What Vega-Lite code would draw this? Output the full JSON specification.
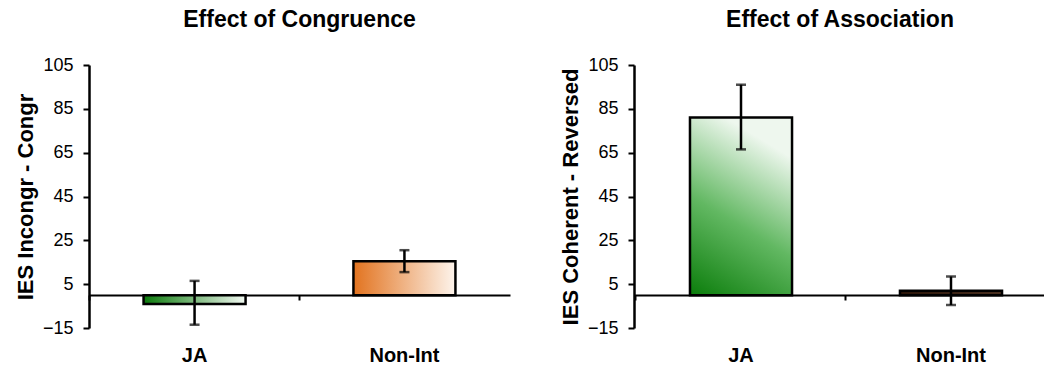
{
  "$schema": "https://vega.github.io/schema/vega-lite/v6.json",
  "background": "white",
  "padding": {"left": 14, "top": 9, "right": 0, "bottom": 0},
  "spacing": 49,
  "config": {
    "view": {"stroke": null},
    "font": "Liberation Sans",
    "axis": {"grid": false, "domainColor": "black", "tickColor": "black", "labelColor": "black", "titleColor": "black", "labelFont": "Liberation Sans", "titleFont": "Liberation Sans"},
    "title": {"fontSize": 23, "fontWeight": "bold", "color": "black", "font": "Liberation Sans", "offset": 24}
  },
  "hconcat": [
    {
      "width": 421,
      "height": 263,
      "title": {"text": "Effect of Congruence"},
      "data": {"values": [
        {"cat": "JA", "value": -4, "lo": -13.5, "hi": 6.5},
        {"cat": "Non-Int", "value": 15.5, "lo": 10.5, "hi": 20.5}
      ]},
      "encoding": {
        "x": {"field": "cat", "type": "nominal",
          "scale": {"domain": ["JA", "Non-Int"], "paddingInner": 0.514, "paddingOuter": 0.26, "align": 0.5},
          "axis": {"title": null, "orient": "bottom", "offset": -33, "domainWidth": 2, "tickWidth": 2, "tickSize": 5, "bandPosition": -0.53, "labelPadding": 45, "labelFontSize": 20, "labelFontWeight": "bold", "labelAngle": 0}}
      },
      "layer": [
        {
          "transform": [{"filter": "datum.cat === 'JA'"}],
          "mark": {"type": "bar", "stroke": "black", "strokeWidth": 2.5,
            "fill": {"gradient": "linear", "x1": 0, "y1": 0, "x2": 1, "y2": 0, "stops": [{"offset": 0, "color": "#0b7a0b"}, {"offset": 1, "color": "#f2f9f2"}]}},
          "encoding": {
            "y": {"field": "value", "type": "quantitative",
              "scale": {"domain": [-15, 105], "nice": false, "zero": false},
              "axis": {"title": "IES Incongr - Congr", "values": [-15, 5, 25, 45, 65, 85, 105], "domainWidth": 2.5, "tickWidth": 2, "tickSize": 6, "labelPadding": 10, "labelFontSize": 18, "titleFontSize": 22, "titleFontWeight": "bold", "titlePadding": 5}},
            "y2": {"datum": 0}
          }
        },
        {
          "transform": [{"filter": "datum.cat === 'Non-Int'"}],
          "mark": {"type": "bar", "stroke": "black", "strokeWidth": 2.5,
            "fill": {"gradient": "linear", "x1": 0, "y1": 0, "x2": 1, "y2": 0, "stops": [{"offset": 0, "color": "#e2731f"}, {"offset": 1, "color": "#fdf4ec"}]}},
          "encoding": {"y": {"field": "value", "type": "quantitative"}, "y2": {"datum": 0}}
        },
        {
          "mark": {"type": "rule", "stroke": "black", "strokeWidth": 2.5},
          "encoding": {"y": {"field": "lo", "type": "quantitative"}, "y2": {"field": "hi"}}
        },
        {
          "mark": {"type": "tick", "color": "black", "size": 10, "thickness": 2.5, "orient": "horizontal"},
          "encoding": {"y": {"field": "lo", "type": "quantitative"}}
        },
        {
          "mark": {"type": "tick", "color": "black", "size": 10, "thickness": 2.5, "orient": "horizontal"},
          "encoding": {"y": {"field": "hi", "type": "quantitative"}}
        }
      ]
    },
    {
      "width": 412,
      "height": 263,
      "title": {"text": "Effect of Association"},
      "data": {"values": [
        {"cat": "JA", "value": 81, "lo": 66.5, "hi": 96},
        {"cat": "Non-Int", "value": 2, "lo": -4.5, "hi": 8.5}
      ]},
      "encoding": {
        "x": {"field": "cat", "type": "nominal",
          "scale": {"domain": ["JA", "Non-Int"], "paddingInner": 0.514, "paddingOuter": 0.238, "align": 0.56},
          "axis": {"title": null, "orient": "bottom", "offset": -33, "domainWidth": 2, "tickWidth": 2, "tickSize": 5, "bandPosition": -0.53, "labelPadding": 45, "labelFontSize": 20, "labelFontWeight": "bold", "labelAngle": 0}}
      },
      "layer": [
        {
          "transform": [{"filter": "datum.cat === 'JA'"}],
          "mark": {"type": "bar", "stroke": "black", "strokeWidth": 2.5,
            "fill": {"gradient": "linear", "x1": 0, "y1": 1, "x2": 0.35, "y2": 0, "stops": [{"offset": 0, "color": "#0b7d0b"}, {"offset": 0.5, "color": "#62b862"}, {"offset": 1, "color": "#eef7ee"}]}},
          "encoding": {
            "y": {"field": "value", "type": "quantitative",
              "scale": {"domain": [-15, 105], "nice": false, "zero": false},
              "axis": {"title": "IES Coherent - Reversed", "values": [-15, 5, 25, 45, 65, 85, 105], "domainWidth": 2.5, "tickWidth": 2, "tickSize": 6, "labelPadding": 10, "labelFontSize": 18, "titleFontSize": 22, "titleFontWeight": "bold", "titlePadding": 5}},
            "y2": {"datum": 0}
          }
        },
        {
          "transform": [{"filter": "datum.cat === 'Non-Int'"}],
          "mark": {"type": "bar", "stroke": "black", "strokeWidth": 2.5,
            "fill": {"gradient": "linear", "x1": 0, "y1": 0, "x2": 1, "y2": 0, "stops": [{"offset": 0, "color": "#2a1408"}, {"offset": 1, "color": "#4a3020"}]}},
          "encoding": {"y": {"field": "value", "type": "quantitative"}, "y2": {"datum": 0}}
        },
        {
          "mark": {"type": "rule", "stroke": "black", "strokeWidth": 2.5},
          "encoding": {"y": {"field": "lo", "type": "quantitative"}, "y2": {"field": "hi"}}
        },
        {
          "mark": {"type": "tick", "color": "black", "size": 10, "thickness": 2.5, "orient": "horizontal"},
          "encoding": {"y": {"field": "lo", "type": "quantitative"}}
        },
        {
          "mark": {"type": "tick", "color": "black", "size": 10, "thickness": 2.5, "orient": "horizontal"},
          "encoding": {"y": {"field": "hi", "type": "quantitative"}}
        }
      ]
    }
  ]
}
